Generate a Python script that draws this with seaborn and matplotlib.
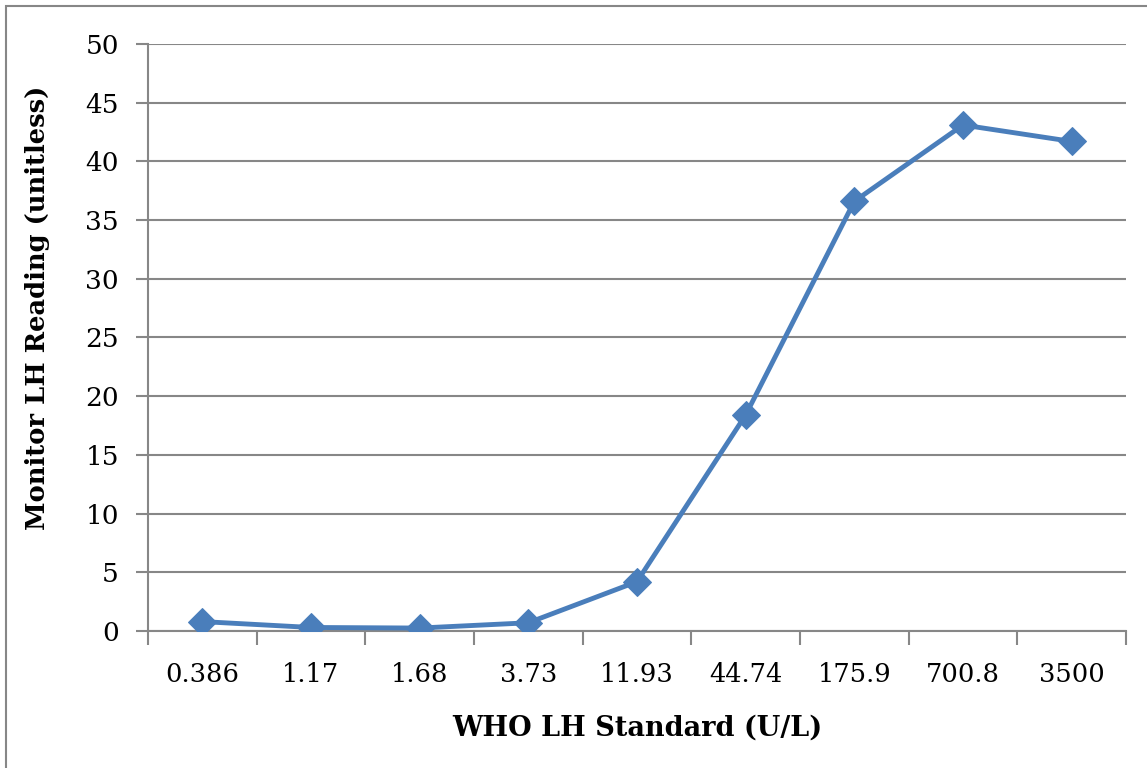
import matplotlib
matplotlib.use("Agg")
import matplotlib.pyplot as plt
import seaborn as sns
import pandas as pd
from matplotlib.patches import Rectangle

# values
standards = ['0.386', '1.17', '1.68', '3.73', '11.93', '44.74', '175.9', '700.8', '3500']
readings = [0.8, 0.3, 0.25, 0.7, 4.2, 18.4, 36.6, 43.1, 41.7]
y_ticks = [0, 5, 10, 15, 20, 25, 30, 35, 40, 45, 50]

sns.set_style('white')
plt.rcParams['font.family'] = ['DejaVu Serif']
plt.rcParams['text.color'] = 'black'
plt.rcParams['axes.labelcolor'] = 'black'
plt.rcParams['xtick.labelcolor'] = 'black'
plt.rcParams['ytick.labelcolor'] = 'black'

df = pd.DataFrame({'standard': standards, 'reading': readings})

fig = plt.figure(figsize=(11.47, 7.68), dpi=100)
ax = fig.add_axes([0.129, 0.1784, 0.8527, 0.7643])

grid_col = '#878787'
blue = '#4a7ebb'

sns.lineplot(data=df, x='standard', y='reading', sort=False, ax=ax,
             color=blue, linewidth=3.5, marker='D', markersize=14,
             markeredgecolor=blue, zorder=3)

ax.set_ylim(0, 50)
ax.set_yticks(y_ticks)
ax.set_xlim(-0.5, len(standards) - 0.5)
ax.yaxis.grid(True, color=grid_col, linewidth=1.5)
ax.set_axisbelow(True)

for side in ['top', 'right']:
    ax.spines[side].set_visible(False)
for side in ['left', 'bottom']:
    ax.spines[side].set_color(grid_col)
    ax.spines[side].set_linewidth(1.5)

# tick marks between categories, like Excel
ax.set_xticks(range(len(standards)))
ax.set_xticklabels(standards)
ax.set_xticks([i - 0.5 for i in range(len(standards) + 1)], minor=True)
ax.tick_params(axis='x', which='major', length=0, pad=22, labelsize=18.5)
ax.tick_params(axis='x', which='minor', length=10, width=1.5, color=grid_col,
               direction='out', bottom=True)
ax.tick_params(axis='y', length=9, width=1.5, color=grid_col, direction='out',
               left=True, pad=12, labelsize=19)

ax.set_xlabel('WHO LH Standard (U/L)', fontsize=19.5, fontweight='bold', labelpad=20)
ax.set_ylabel('Monitor LH Reading (unitless)', fontsize=18.5, fontweight='bold')
ax.yaxis.set_label_coords(-0.1, 0.551)

# chart border
fig.patches.append(Rectangle((6 / 1147, -0.01), 1.2, 1 - 6 / 768 + 0.01,
                             transform=fig.transFigure, fill=False,
                             edgecolor=grid_col, linewidth=1.5))

fig.savefig('out.png', dpi=100)
